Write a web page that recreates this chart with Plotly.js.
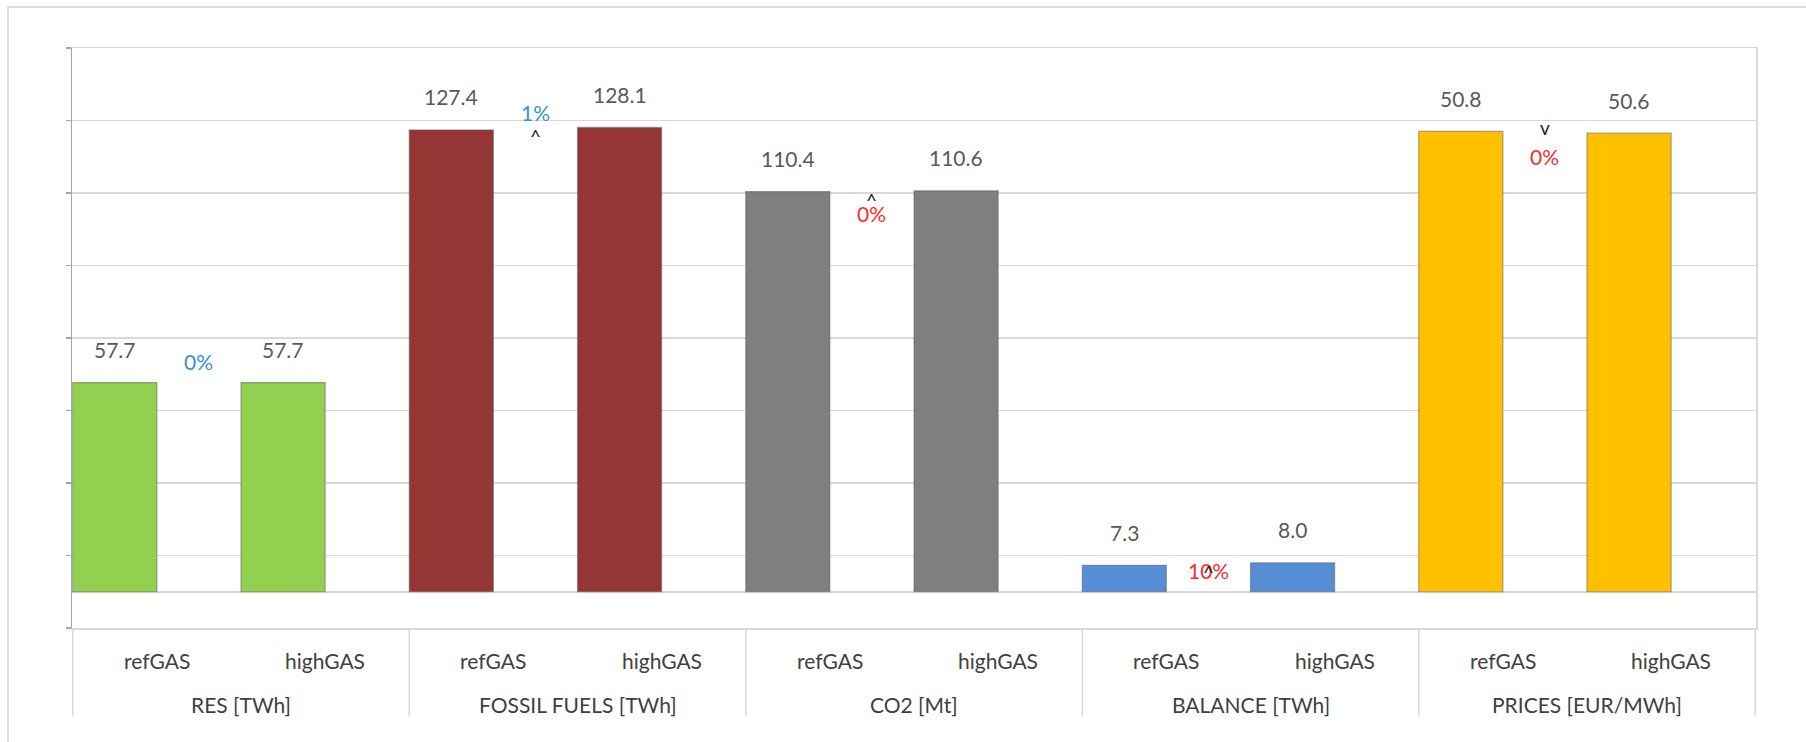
<!DOCTYPE html>
<html>
<head>
<meta charset="utf-8">
<script src="https://cdn.plot.ly/plotly-3.0.1.min.js"></script>
<style>
  html, body { margin: 0; padding: 0; background: #ffffff; overflow: hidden; }
  #chart { position: absolute; left: 0; top: 0; width: 1806px; height: 742px; }
  #frame { position: absolute; left: 7px; top: 6px; width: 1900px; height: 900px;
           border-left: 2px solid #dedede; border-top: 2px solid #dedede; pointer-events: none; }
</style>
</head>
<body>
<div id="chart"></div>
<div id="frame"></div>
<script>
// Indicator groups and the two gas-price scenarios compared within each group
const groups = ['RES [TWh]', 'FOSSIL FUELS [TWh]', 'CO2 [Mt]', 'BALANCE [TWh]', 'PRICES [EUR/MWh]'];
const scenarios = ['refGAS', 'highGAS'];
const refGAS = [57.7, 127.4, 110.4, 7.3, 50.8];
const highGAS = [57.7, 128.1, 110.6, 8.0, 50.6];

// Styling per group
const barColors = ['#92D050', '#943634', '#7F7F7F', '#558ED5', '#FFC000'];
const valueAxis = ['y', 'y', 'y', 'y', 'y2'];          // prices use the secondary scale
const pctColors = ['#3A8FD6', '#3A8FD6', '#FF2B2B', '#FF2B2B', '#FF2B2B'];
const pctShift = [21, 17, -22, -5, -25];                 // px offset of the % label from the refGAS bar top
const caretShift = [0, -7, -9, -7, 4];                   // px offset of the direction mark

const FONT = 'Lato, "Open Sans", sans-serif';
const textGray = '#595959';
const labelGray = '#404040';
const grid = '#d9d9d9';

const W = 1806, H = 742;
const M = { l: 72, r: 50, t: 48, b: 114 };
const plotH = H - M.t - M.b;
const px = p => p / plotH;                               // pixels -> paper units (vertical)

const traces = groups.map((g, i) => ({
  type: 'bar',
  x: [[g, g], scenarios],
  y: [refGAS[i], highGAS[i]],
  yaxis: valueAxis[i],
  offset: -0.5,
  width: 0.5,
  marker: { color: barColors[i], line: { color: 'rgba(100,100,100,0.55)', width: 1.2 } },
  hoverinfo: 'skip',
  showlegend: false
}));

const annotations = [];
const shapes = [];
groups.forEach((g, i) => {
  const yref = valueAxis[i];
  const vals = [refGAS[i], highGAS[i]];
  vals.forEach((v, s) => {
    // value label above each bar
    annotations.push({
      x: 2 * i + s - 0.25, y: v, xref: 'x', yref: yref,
      text: v.toFixed(1), showarrow: false, yshift: 33,
      font: { family: FONT, size: 21, color: textGray }
    });
    // scenario label under the axis
    annotations.push({
      x: 2 * i + s, y: 0, xref: 'x', yref: 'paper', yanchor: 'middle',
      text: scenarios[s], showarrow: false, yshift: -32,
      font: { family: FONT, size: 21, color: labelGray }
    });
  });
  // group label
  annotations.push({
    x: 2 * i + 0.5, y: 0, xref: 'x', yref: 'paper', yanchor: 'middle',
    text: g, showarrow: false, yshift: -76,
    font: { family: FONT, size: 21, color: labelGray }
  });
  // relative change from refGAS to highGAS
  const change = (highGAS[i] - refGAS[i]) / refGAS[i] * 100;
  const pct = Math.abs(Math.round(change));
  annotations.push({
    x: 2 * i + 0.25, y: refGAS[i], xref: 'x', yref: yref,
    text: pct + '%', showarrow: false, yshift: pctShift[i],
    font: { family: FONT, size: 21, color: pctColors[i] }
  });
  const mark = change > 0 ? '^' : (change < 0 ? 'v' : '');
  if (mark) {
    annotations.push({
      x: 2 * i + 0.25, y: refGAS[i], xref: 'x', yref: yref,
      text: mark, showarrow: false, yshift: caretShift[i],
      font: { family: FONT, size: 19, color: '#262626' }
    });
  }
});

// group dividers running through the label area
for (let k = 0; k <= groups.length; k++) {
  shapes.push({
    type: 'line', xref: 'x', yref: 'paper',
    x0: 2 * k - 0.5, x1: 2 * k - 0.5, y0: 0, y1: -px(88),
    line: { color: grid, width: 1.5 }, layer: 'below'
  });
}

const layout = {
  width: W, height: H,
  margin: { l: M.l, r: M.r, t: M.t, b: M.b, pad: 0 },
  paper_bgcolor: '#ffffff', plot_bgcolor: '#ffffff',
  barmode: 'overlay',
  showlegend: false,
  font: { family: FONT, size: 21, color: labelGray },
  xaxis: {
    type: 'multicategory',
    showgrid: false, zeroline: false,
    showline: true, linecolor: grid, linewidth: 1.5, mirror: true,
    ticks: '', showticklabels: false, showdividers: false
  },
  yaxis: {
    range: [-10, 150], tick0: -10, dtick: 20,
    showgrid: true, gridcolor: grid, gridwidth: 1.5,
    zeroline: true, zerolinecolor: grid, zerolinewidth: 1.5,
    showline: true, linecolor: '#a6a6a6', linewidth: 1.2,
    ticks: 'outside', ticklen: 5, tickcolor: '#a6a6a6', tickwidth: 1.2,
    showticklabels: false
  },
  yaxis2: {
    overlaying: 'y', side: 'right', range: [-4, 60],
    showgrid: false, zeroline: false, showticklabels: false, ticks: '',
    showline: true, linecolor: grid, linewidth: 1.5
  },
  shapes: shapes,
  annotations: annotations
};

Plotly.newPlot('chart', traces, layout, { staticPlot: true, displayModeBar: false });
</script>
</body>
</html>
